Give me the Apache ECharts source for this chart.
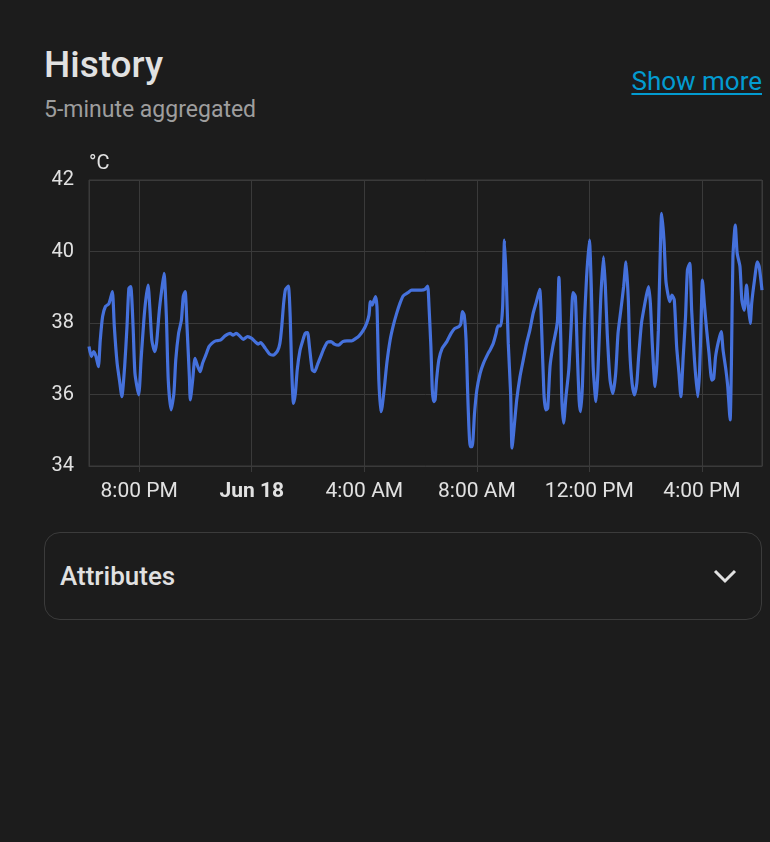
<!DOCTYPE html>
<html>
<head>
<meta charset="utf-8">
<script src="https://cdn.jsdelivr.net/npm/echarts@6/dist/echarts.min.js"></script>
<style>
  html, body {
    margin: 0;
    padding: 0;
    background: #1c1c1c;
    width: 770px;
    height: 842px;
    overflow: hidden;
    font-family: Roboto, sans-serif;
  }
  .title {
    position: absolute;
    left: 44px;
    top: 47px;
    font-size: 37px;
    line-height: 36px;
    font-weight: 500;
    color: #e1e1e1;
  }
  .subtitle {
    position: absolute;
    left: 44px;
    top: 99px;
    font-size: 23px;
    line-height: 22px;
    color: #9e9e9e;
  }
  .more {
    position: absolute;
    right: 8px;
    top: 68px;
    font-size: 26px;
    line-height: 26px;
    color: #039bd0;
    text-decoration: underline;
    text-underline-offset: 3px;
  }
  #chart {
    position: absolute;
    left: 0;
    top: 140px;
    width: 770px;
    height: 380px;
  }
  .attrs {
    position: absolute;
    left: 44px;
    top: 532px;
    width: 716px;
    height: 86px;
    border: 1px solid #3b3b3b;
    border-radius: 16px;
    display: flex;
    align-items: center;
    justify-content: space-between;
  }
  .attrs span {
    margin-left: 15px;
    font-size: 26px;
    font-weight: 500;
    color: #e1e1e1;
  }
  .attrs svg {
    margin-right: 24px;
  }
</style>
</head>
<body>
<div class="title">History</div>
<div class="subtitle">5-minute aggregated</div>
<div class="more">Show more</div>
<div id="chart"></div>
<div class="attrs">
  <span>Attributes</span>
  <svg width="24" height="16" viewBox="0 0 24 16"><polyline points="2,3 12,13 22,3" fill="none" stroke="#e1e1e1" stroke-width="3"/></svg>
</div>

<script>
// minutes since Jun 17 00:00 (local time)
const minutes = [
  1093, 1098, 1103, 1108, 1113, 1117, 1122, 1128, 1135, 1140, 1143, 1147, 1153, 1158, 1163, 1169, 1174, 1178, 1182, 1187,
  1191, 1199, 1204, 1210, 1214, 1219, 1223, 1227, 1233, 1237, 1243, 1248, 1253, 1258, 1262, 1268, 1274, 1278, 1284, 1290,
  1294, 1298, 1302, 1307, 1309, 1314, 1319, 1325, 1330, 1335, 1342, 1349, 1355, 1363, 1373, 1383, 1394, 1400, 1407, 1414,
  1422, 1431, 1440, 1447, 1454, 1459, 1469, 1478, 1486, 1495, 1500, 1504, 1508, 1512, 1518, 1522, 1525, 1529, 1533, 1537,
  1543, 1549, 1554, 1559, 1563, 1569, 1574, 1580, 1587, 1594, 1601, 1609, 1616, 1625, 1634, 1643, 1653, 1662, 1669, 1678,
  1685, 1690, 1693, 1697, 1701, 1704, 1707, 1709, 1711, 1715, 1718, 1723, 1728, 1735, 1742, 1749, 1756, 1763, 1773, 1781,
  1792, 1802, 1809, 1815, 1818, 1822, 1825, 1828, 1831, 1834, 1839, 1846, 1856, 1865, 1873, 1882, 1886, 1889, 1893, 1897,
  1900, 1903, 1906, 1910, 1915, 1920, 1927, 1934, 1944, 1948, 1955, 1961, 1965, 1971, 1975, 1979, 1983, 1987, 1992, 1995,
  1999, 2005, 2012, 2019, 2026, 2033, 2040, 2047, 2054, 2058, 2063, 2067, 2071, 2076, 2082, 2089, 2092, 2095, 2099, 2101,
  2105, 2110, 2116, 2121, 2125, 2130, 2134, 2138, 2141, 2145, 2149, 2154, 2160, 2164, 2168, 2174, 2178, 2184, 2190, 2194,
  2198, 2204, 2210, 2216, 2221, 2227, 2233, 2238, 2243, 2246, 2251, 2256, 2261, 2265, 2271, 2277, 2281, 2286, 2290, 2294,
  2300, 2304, 2307, 2310, 2314, 2319, 2323, 2327, 2331, 2336, 2341, 2346, 2351, 2355, 2360, 2365, 2369, 2374, 2378, 2384,
  2391, 2395, 2398, 2401, 2405, 2410, 2415, 2421, 2425, 2429, 2435, 2441, 2445, 2451, 2455, 2460, 2463, 2466, 2471, 2475,
  2481, 2485, 2490, 2495, 2499, 2503, 2506, 2512, 2518, 2522, 2528
];
// mean temperature, °C
const temps = [
  37.34, 37.06, 37.2, 37.06, 36.78, 37.52, 38.18, 38.46, 38.53, 38.74, 38.88, 37.9, 36.87, 36.4, 35.94, 36.78, 37.9, 38.97, 39.02, 37.9,
  36.59, 35.99, 36.97, 38.08, 38.64, 39.06, 38.36, 37.52, 37.2, 37.43, 38.36, 38.92, 39.39, 38.18, 36.4, 35.57, 36.03, 36.97, 37.71, 38.08,
  38.74, 38.88, 37.9, 36.5, 35.85, 36.4, 37.01, 36.78, 36.64, 36.87, 37.1, 37.34, 37.43, 37.5, 37.52, 37.64, 37.71, 37.66, 37.71, 37.64,
  37.54, 37.62, 37.57, 37.48, 37.41, 37.45, 37.29, 37.13, 37.1, 37.22, 37.43, 37.9, 38.55, 38.94, 39.03, 38.18, 36.78, 35.75, 36.03, 36.69,
  37.24, 37.52, 37.71, 37.73, 37.34, 36.69, 36.64, 36.83, 37.06, 37.29, 37.46, 37.48, 37.41, 37.38, 37.48, 37.5, 37.5, 37.57, 37.64, 37.8,
  37.99, 38.22, 38.6, 38.5, 38.64, 38.74, 38.46, 37.43, 36.4, 35.52, 35.66, 36.22, 36.87, 37.52, 37.94, 38.27, 38.55, 38.76, 38.85, 38.92,
  38.92, 38.92, 38.94, 39.03, 38.46, 37.34, 36.13, 35.8, 35.85, 36.4, 36.97, 37.29, 37.48, 37.71, 37.85, 37.9, 37.99, 38.32, 38.22, 37.52,
  36.22, 35.1, 34.54, 34.54, 35.47, 36.13, 36.59, 36.87, 37.15, 37.24, 37.43, 37.71, 37.92, 37.92, 38.46, 40.32, 39.11, 37.43, 36.03, 34.5,
  35.01, 35.85, 36.5, 36.97, 37.43, 37.8, 38.27, 38.6, 38.94, 37.9, 36.03, 35.57, 35.61, 36.78, 37.34, 37.8, 38.08, 39.28, 37.52, 35.94,
  35.2, 35.94, 36.69, 37.9, 38.85, 38.74, 37.24, 35.85, 35.52, 36.22, 37.9, 39.29, 40.32, 39.02, 36.78, 35.8, 36.59, 38.64, 39.85, 39.02,
  37.71, 36.4, 36.03, 36.59, 37.71, 38.36, 39.02, 39.71, 38.64, 37.24, 36.31, 35.99, 36.31, 37.06, 37.99, 38.46, 38.74, 39.02, 38.55, 37.43,
  36.22, 36.87, 37.8, 39.39, 41.07, 40.32, 39.2, 38.83, 38.6, 38.78, 38.64, 37.34, 36.59, 35.94, 37.06, 38.18, 39.48, 39.67, 38.36, 36.97,
  35.94, 36.69, 37.99, 39.2, 38.55, 37.8, 37.15, 36.4, 36.45, 37.06, 37.48, 37.76, 37.24, 36.69, 36.22, 35.29, 37.06, 39.85, 40.74, 39.95,
  39.58, 38.64, 38.36, 39.06, 38.46, 37.99, 38.55, 39.2, 39.71, 39.58, 38.92
];
const yTicks = { min: 34, max: 42, step: 2 };
const range = { start: 1093, end: 2528 }; // minutes since Jun 17 00:00

const day0 = new Date(2024, 5, 17, 0, 0, 0).getTime();
const toTs = (m) => day0 + m * 60000;
const seriesData = minutes.map((m, i) => [toTs(m), temps[i]]);

const chart = echarts.init(document.getElementById("chart"));
const gridColor = "#3a3a3a";
const textColor = "#e1e1e1";

function fmtTime(value) {
  const d = new Date(value);
  const h = d.getHours();
  const m = d.getMinutes();
  if (h === 0 && m === 0) {
    return "{b|Jun " + d.getDate() + "}";
  }
  const h12 = h % 12 === 0 ? 12 : h % 12;
  return h12 + ":" + String(m).padStart(2, "0") + " " + (h < 12 ? "AM" : "PM");
}

chart.setOption({
  backgroundColor: "#1c1c1c",
  animation: false,
  grid: {
    left: 89,
    right: 8,
    top: 40,
    bottom: 54,
    show: true,
    borderColor: gridColor,
    borderWidth: 1,
  },
  xAxis: {
    type: "time",
    min: toTs(range.start),
    max: toTs(range.end),
    minInterval: 4 * 3600 * 1000,
    maxInterval: 4 * 3600 * 1000,
    axisLine: { show: true, lineStyle: { color: gridColor } },
    axisTick: { show: true, length: 6, lineStyle: { color: gridColor } },
    splitLine: { show: true, lineStyle: { color: gridColor } },
    axisLabel: {
      color: textColor,
      fontSize: 21,
      fontFamily: "Roboto",
      margin: 15,
      showMinLabel: false,
      showMaxLabel: false,
      hideOverlap: true,
      formatter: fmtTime,
      rich: {
        b: { fontWeight: "bold", fontSize: 21, fontFamily: "Roboto", color: textColor },
      },
    },
  },
  yAxis: {
    type: "value",
    min: yTicks.min,
    max: yTicks.max,
    interval: yTicks.step,
    name: "°C",
    nameLocation: "end",
    nameGap: 6,
    nameTextStyle: { color: textColor, fontSize: 20, fontFamily: "Roboto", align: "left" },
    axisLine: { show: false },
    axisTick: { show: false },
    splitLine: { show: true, lineStyle: { color: gridColor } },
    axisLabel: { color: textColor, fontSize: 20, fontFamily: "Roboto", margin: 15 },
  },
  series: [
    {
      type: "line",
      data: seriesData,
      showSymbol: false,
      symbol: "none",
      smooth: 0.2,
      lineStyle: { color: "#4571dc", width: 3.2 },
    },
  ],
});
</script>
</body>
</html>
